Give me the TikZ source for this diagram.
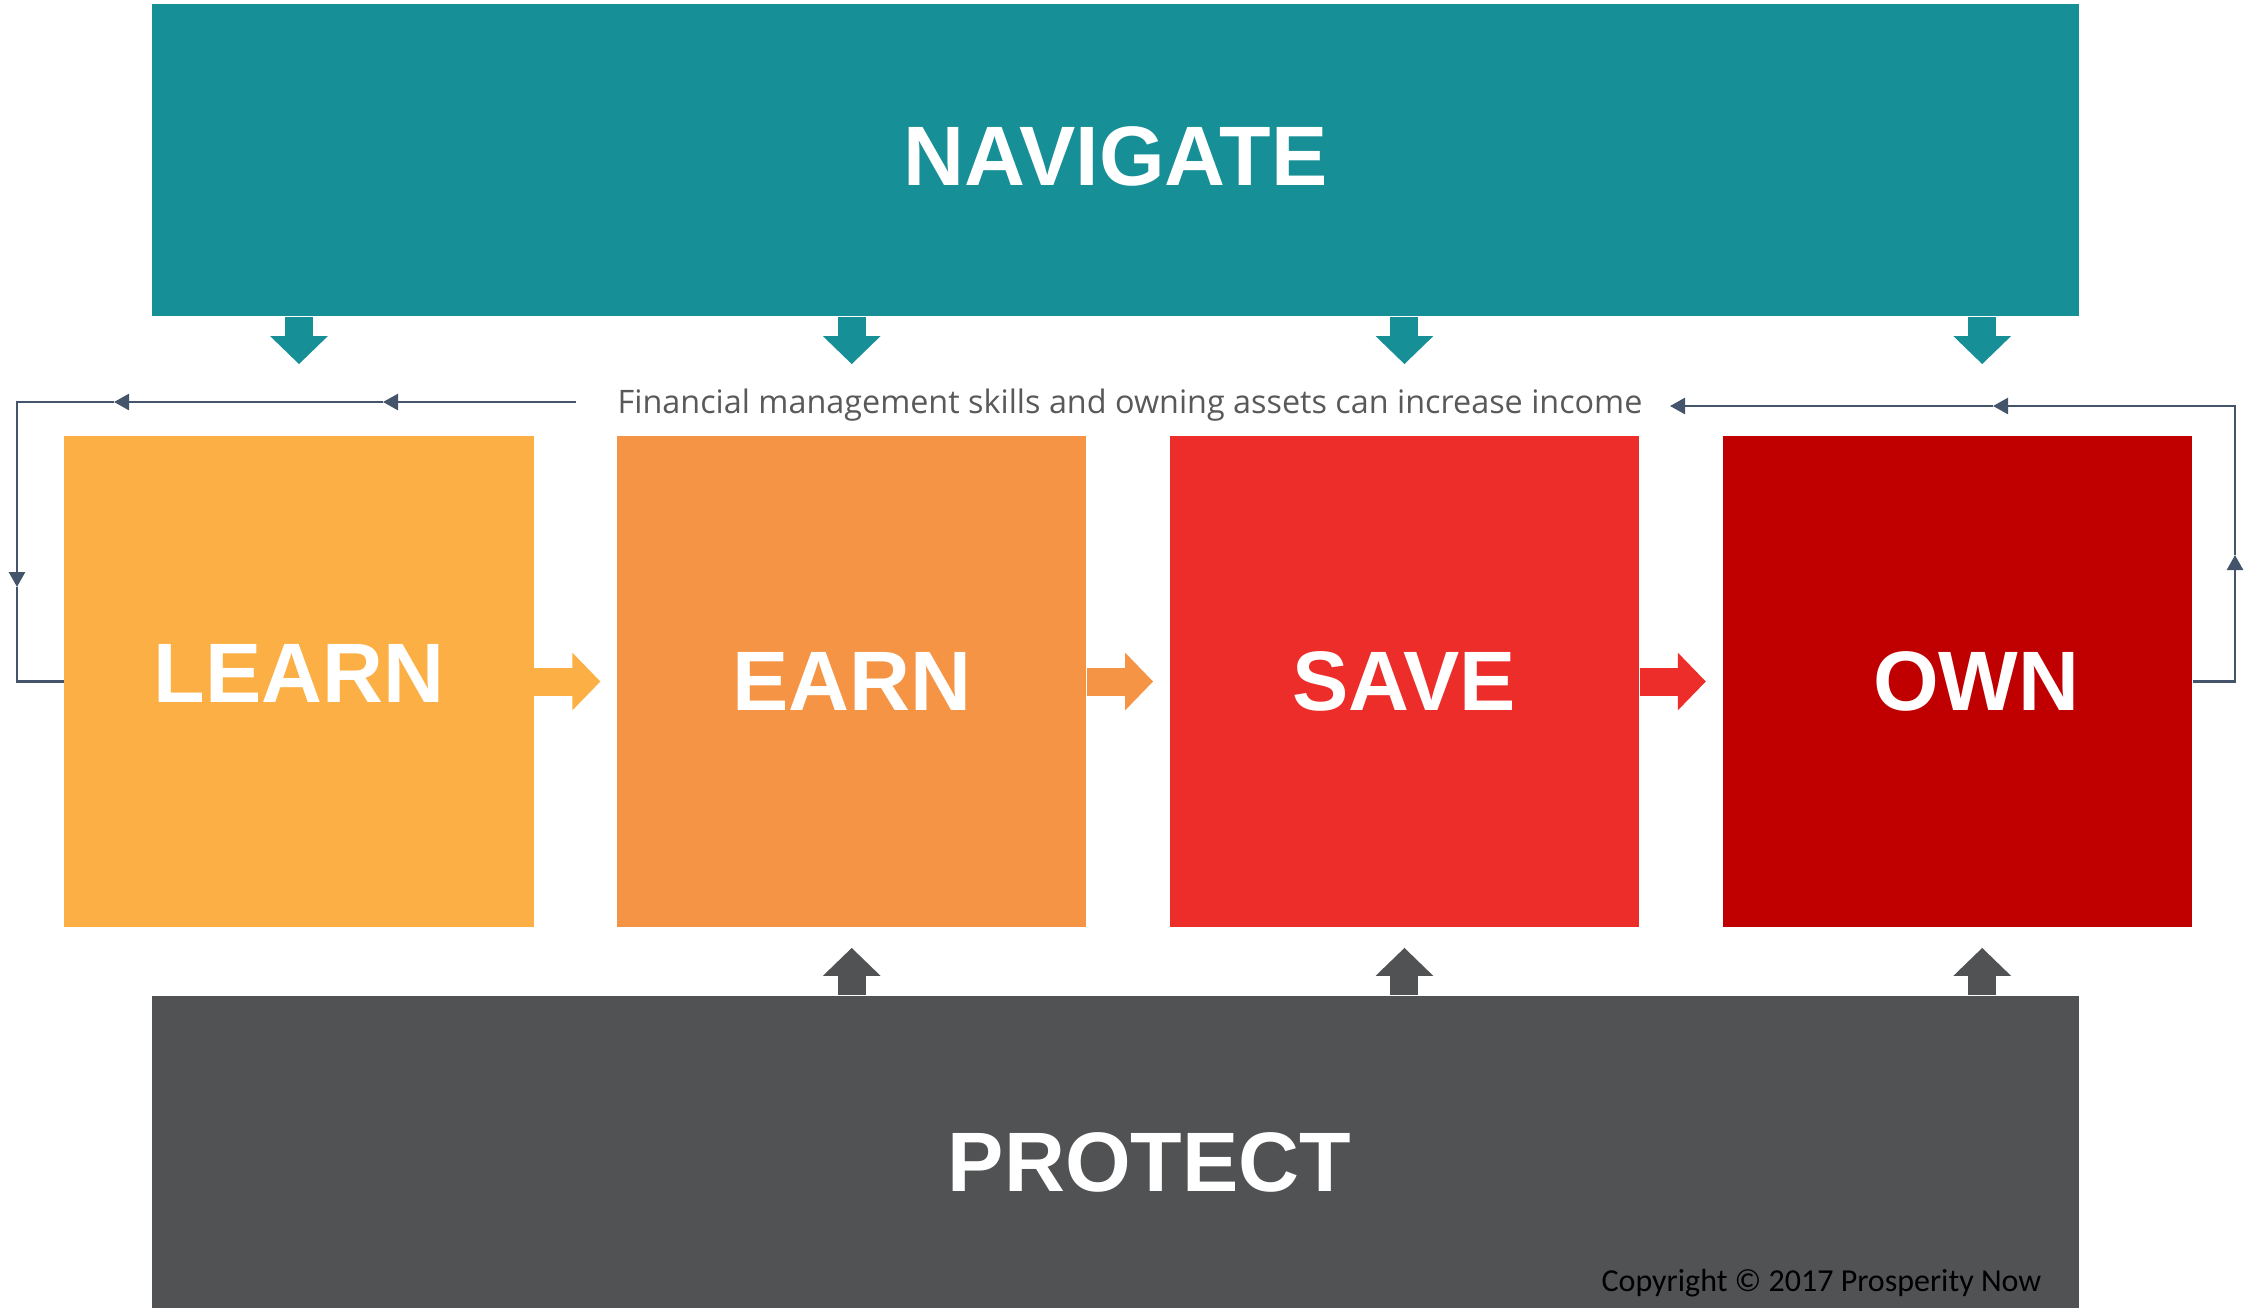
\documentclass[tikz,border=0pt]{standalone}
\usepackage{fontspec}
\setmainfont{Liberation Sans}
\newfontfamily\capfont{Open Sans}
\newfontfamily\copyfont{Carlito}
\usepackage{tikz}
\usetikzlibrary{arrows.meta, positioning}
\usepackage{xcolor}

\definecolor{navteal}{HTML}{168F96}
\definecolor{learnorange}{HTML}{FCAF44}
\definecolor{earnorange}{HTML}{F59445}
\definecolor{savered}{HTML}{EC2D2A}
\definecolor{ownred}{HTML}{C00000}
\definecolor{protectgray}{HTML}{515254}
\definecolor{loopblue}{HTML}{44546A}
\definecolor{capgray}{HTML}{595959}

\begin{document}
\begin{tikzpicture}[x=0.01cm,y=-0.01cm,node distance=0.82cm]
  \tikzstyle{stage}=[rectangle,inner sep=0pt,minimum width=4.69cm,minimum height=4.91cm,
    text=white,font=\fontsize{24}{28}\selectfont\bfseries]
  \tikzstyle{band}=[stage,minimum width=19.25cm,minimum height=3.12cm]
  \tikzstyle{fatarrow}=[line width=0.28cm,-{Triangle[length=0.28cm,width=0.56cm]}]
  \tikzstyle{loop}=[line width=0.7pt,draw=loopblue,-{Triangle[length=0.15cm,width=0.16cm]}]

  \useasboundingbox (0,0) rectangle (2244,1311);

  \node[band,fill=navteal,text depth=0.08cm] (navigate) at (1115.5,160) {NAVIGATE};
  \node[band,fill=protectgray,text height=0.785cm,text depth=0pt] (protect) at (1115.5,1152) {\hspace{0.68cm}PROTECT};

  \node[stage,fill=learnorange,text depth=0.16cm] (learn) at (299,681.5) {LEARN};
  \node[stage,fill=earnorange]  (earn) [right=of learn] {EARN};
  \node[stage,fill=savered]     (save) [right=of earn]  {SAVE};
  \node[stage,fill=ownred]      (own)  [right=of save]  {\hspace{0.38cm}OWN};

  \node[anchor=base west,inner sep=0pt,text=capgray,font=\capfont\fontsize{9.2}{11}\selectfont] (caption)
    at (617,413) {Financial management skills and owning assets can increase income};
  \node[anchor=base east,inner sep=0pt,text=black,font=\copyfont\fontsize{9.1}{10}\selectfont] (copyright)
    at (2042,1291) {Copyright © 2017 Prosperity Now};

  % arrows from the bands into the stages
  \path[fatarrow,navteal,shorten >=0.71cm]
  (navigate.south -| learn) edge (learn)
  (navigate.south -| earn)  edge (earn)
  (navigate.south -| save)  edge (save)
  ([xshift=0.25cm]navigate.south -| own) edge ([xshift=0.25cm]own.north)
  ;
  \path[fatarrow,protectgray,shorten >=0.2cm]
  (protect.north -| earn) edge (earn)
  (protect.north -| save) edge (save)
  ([xshift=0.25cm]protect.north -| own) edge ([xshift=0.25cm]own.south)
  ;
  \path[fatarrow,shorten >=0.16cm]
  (learn) edge [learnorange] (earn)
  (earn)  edge [earnorange]  (save)
  (save)  edge [savered]     (own)
  ;

  % feedback loop
  \coordinate (l0) at (576,402);
  \coordinate (l1) at (383,402);
  \coordinate (l2) at (114,402);
  \coordinate (l3) at (17,587);
  \coordinate (r1) at (2235,555);
  \coordinate (r2) at (1993,406);
  \coordinate (r3) at (1670,406);

  \draw[loop] (l0) -- (l1);
  \draw[loop] (l1) -- (l2);
  \draw[loop] (l2) -| (l3);
  \draw[loop,-] (l3) |- (learn.west);
  \draw[loop] (own.east) -| (r1);
  \draw[loop] (r1) |- (r2);
  \draw[loop] (r2) -- (r3);
\end{tikzpicture}
\end{document}
